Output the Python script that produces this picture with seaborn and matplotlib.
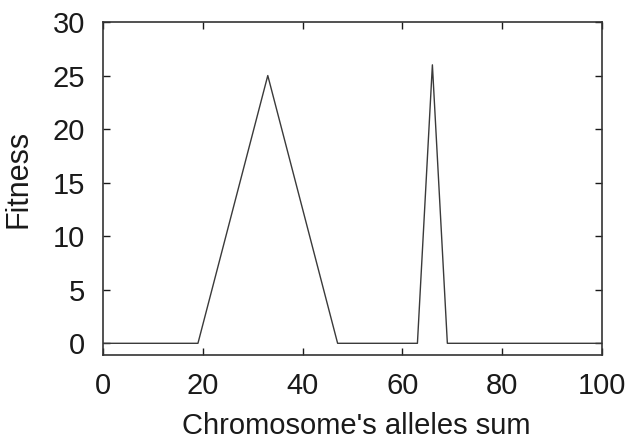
import pandas as pd
import seaborn as sns
import matplotlib.pyplot as plt

# Fitness landscape breakpoints
alleles_sum = [0, 19, 33, 47, 63, 66, 69, 100]
fitness = [0, 0, 25, 0, 0, 26, 0, 0]
x_ticks = [0, 20, 40, 60, 80, 100]
y_ticks = [0, 5, 10, 15, 20, 25, 30]

df = pd.DataFrame({'alleles_sum': alleles_sum, 'fitness': fitness})

sns.set_style('ticks')
plt.rcParams['font.family'] = ['Liberation Sans', 'DejaVu Sans']

fig = plt.figure(figsize=(6.33, 4.4), dpi=100)
ax = fig.add_axes([0.163, 0.193, 0.788, 0.757])

sns.lineplot(x='alleles_sum', y='fitness', data=df, ax=ax, color='#3a3a3a', linewidth=1.0)

ax.set_xlim(0, 100)
ax.set_ylim(-1.1, 30)
ax.set_xticks(x_ticks)
ax.set_yticks(y_ticks)
ax.tick_params(direction='in', length=5, width=1, top=True, right=True,
               labelsize=21, colors='#1a1a1a')
ax.tick_params(axis='x', pad=12)
ax.tick_params(axis='y', pad=13)
for side in ax.spines.values():
    side.set_linewidth(1.2)
    side.set_color('#333333')

ax.set_xlabel("Chromosome's alleles sum", fontsize=21, color='#1a1a1a')
ax.set_ylabel('Fitness', fontsize=22, color='#1a1a1a')
ax.xaxis.set_label_coords(0.507, -0.172)
ax.yaxis.set_label_coords(-0.14, 0.53)

fig.savefig('out.png', dpi=100)
